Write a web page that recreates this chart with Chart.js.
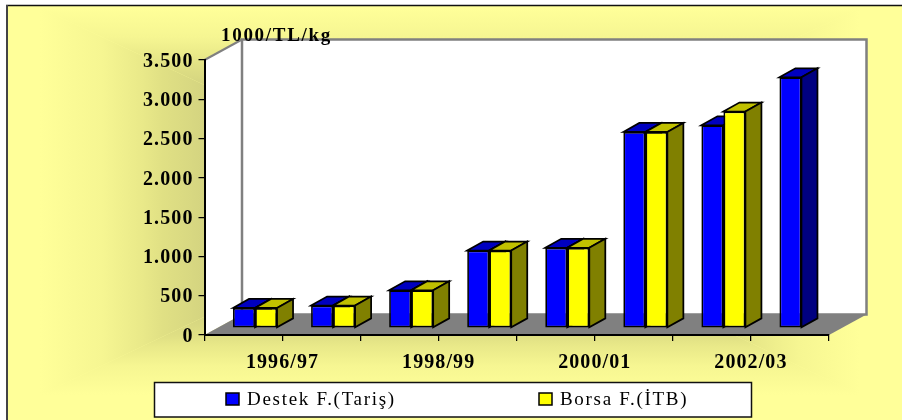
<!DOCTYPE html>
<html><head><meta charset="utf-8">
<style>html,body{margin:0;padding:0;background:#fff}#w{width:902px;height:420px}</style>
<script src="https://cdn.jsdelivr.net/npm/chart.js@4"></script>
</head><body><div id="w"><canvas id="c"></canvas></div>
<script>
const categories = ['1996/97','1997/98','1998/99','1999/00','2000/01','2001/02','2002/03','2003/04'];
const destek = [255, 285, 480, 985, 1020, 2495, 2580, 3190];
const borsa = [255, 285, 480, 985, 1020, 2495, 2755, null];
const yTicks = [0,500,1000,1500,2000,2500,3000,3500];
const unitLabel = '1000/TL/kg';
const seriesNames = ['Destek F.(Tariş)','Borsa F.(İTB)'];

const SP = '1.1px';
const SP_TEXT = '1.7px';
const SERIF = '"Liberation Serif","Times New Roman",serif';
const WALL = {dx:37.5, dy:-20.5};
const BAR = {ox:11.5, oy:-7, dx:16, dy:-9};
const LEGEND = {x:154.5,y:382.5,w:597,h:34.5,items:[{sw:226,tx:247},{sw:539,tx:560}]};

function fmt(v){return String(v).replace(/\B(?=(\d{3})+$)/g,'.');}

function shading(g){
  const cx=450,cy=200,x0=40,x1=860,y0=8,y1=395;
  const stops=[[0,'#C8C878'],[0.6,'#D4D480'],[0.7,'#E0E084'],[0.75,'#E9E989'],[0.85,'#F6F692'],[1,'#FFFF99']];
  const sides=[
    [[x0,y0],[x1,y0],cx,y0],[[x1,y0],[x1,y1],x1,cy],
    [[x1,y1],[x0,y1],cx,y1],[[x0,y1],[x0,y0],x0,cy]
  ];
  sides.forEach(([a,b,ex,ey])=>{
    const lg=g.createLinearGradient(cx,cy,ex,ey);
    stops.forEach(s=>lg.addColorStop(s[0],s[1]));
    g.fillStyle=lg;
    g.beginPath();g.moveTo(cx,cy);g.lineTo(a[0],a[1]);g.lineTo(b[0],b[1]);g.closePath();g.fill();
  });
}

function drawDepth(g,c,ds,m){
  g.strokeStyle='#000';g.lineWidth=1.75;g.lineJoin='miter';
  m.data.forEach((el,i)=>{
    if(ds.data[i]==null)return;
    const p=el.getProps(['x','y','base','width'],false);
    const L=p.x-p.width/2,R=p.x+p.width/2,T=p.y,B=p.base;
    g.fillStyle=ds.topColor;
    g.beginPath();g.moveTo(L,T);g.lineTo(L+BAR.dx,T+BAR.dy);g.lineTo(R+BAR.dx,T+BAR.dy);g.lineTo(R,T);g.closePath();g.fill();g.stroke();
    g.fillStyle=ds.sideColor;
    g.beginPath();g.moveTo(R,T);g.lineTo(R+BAR.dx,T+BAR.dy);g.lineTo(R+BAR.dx,B+BAR.dy);g.lineTo(R,B);g.closePath();g.fill();g.stroke();
  });
}

const scene = {
  id:'scene',
  beforeLayout(c){c.ctx.letterSpacing=SP;},
  beforeDraw(c){
    const g=c.ctx, W=c.width, H=c.height, a=c.chartArea;
    g.letterSpacing=SP;
    g.save();
    g.fillStyle='#fff';g.fillRect(0,0,W,H);
    g.fillStyle='#FFFF99';g.fillRect(7,5,W-7,H-5);
    shading(g);
    // frame: top and left edges only
    g.strokeStyle='#111';g.lineWidth=1.5;
    g.beginPath();g.moveTo(6,5.5);g.lineTo(W,5.5);g.stroke();
    g.strokeStyle='#444';g.lineWidth=2;
    g.beginPath();g.moveTo(7,5);g.lineTo(7,H);g.stroke();
    // side wall
    g.fillStyle='#fff';g.strokeStyle='#808080';g.lineWidth=2;
    g.beginPath();g.moveTo(a.left,a.top);g.lineTo(a.left+WALL.dx,a.top+WALL.dy);
    g.lineTo(a.left+WALL.dx,a.bottom+WALL.dy);g.lineTo(a.left,a.bottom);g.closePath();g.fill();
    g.beginPath();g.moveTo(a.left,a.top);g.lineTo(a.left+WALL.dx,a.top+WALL.dy);g.stroke();
    // back wall
    g.lineWidth=2.5;
    g.beginPath();g.rect(a.left+WALL.dx,a.top+WALL.dy,a.width,a.height);g.fill();g.stroke();
    // floor
    g.fillStyle='#808080';
    g.beginPath();g.moveTo(a.left,a.bottom);g.lineTo(a.right,a.bottom);
    g.lineTo(a.right+WALL.dx,a.bottom+WALL.dy);g.lineTo(a.left+WALL.dx,a.bottom+WALL.dy);g.closePath();g.fill();
    g.restore();
  },
  beforeDatasetsDraw(c){
    // first series, then second over it
    const g=c.ctx;
    c.data.datasets.forEach((ds,i)=>{
      const m=c.getDatasetMeta(i);
      g.save();
      g.translate(BAR.ox,BAR.oy);
      drawDepth(g,c,ds,m);
      m.controller.draw();
      g.restore();
    });
    return false;
  },
  afterDraw(c){
    const g=c.ctx, L=LEGEND;
    g.save();
    g.letterSpacing=SP_TEXT;
    g.fillStyle='#000';g.font='bold 19px '+SERIF;g.textAlign='left';g.textBaseline='alphabetic';
    g.fillText(unitLabel,221,40.5);
    // legend
    g.fillStyle='#fff';g.strokeStyle='#111';g.lineWidth=1.5;
    g.fillRect(L.x,L.y,L.w,L.h);g.strokeRect(L.x,L.y,L.w,L.h);
    c.data.datasets.forEach((ds,i)=>{
      const it=L.items[i];
      g.fillStyle=ds.backgroundColor;g.strokeStyle='#000';g.lineWidth=1.5;
      g.fillRect(it.sw,393,13,12);g.strokeRect(it.sw,393,13,12);
      g.fillStyle='#000';g.font='19px '+SERIF;g.textBaseline='alphabetic';
      g.fillText(ds.label,it.tx,404.5);
    });
    g.restore();
  }
};

new Chart(document.getElementById('c'),{
  type:'bar',
  data:{labels:categories,datasets:[
    {label:seriesNames[0],data:destek,backgroundColor:'#0000FF',borderColor:'#000',borderWidth:1.75,borderSkipped:false,
     topColor:'#0000C0',sideColor:'#000080',clip:false,categoryPercentage:44/78,barPercentage:1},
    {label:seriesNames[1],data:borsa,backgroundColor:'#FFFF00',borderColor:'#000',borderWidth:1.75,borderSkipped:false,
     topColor:'#C0C000',sideColor:'#808000',clip:false,categoryPercentage:44/78,barPercentage:1}
  ]},
  options:{
    responsive:true,maintainAspectRatio:false,animation:false,
    layout:{padding:{top:60,left:0,right:73,bottom:0}},
    plugins:{title:{display:false},tooltip:{enabled:false},legend:{display:false}},
    scales:{
      x:{offset:true,
        afterFit(s){s.height=85;},
        border:{color:'#000',width:2},
        grid:{display:true,drawOnChartArea:false,color:'#000',lineWidth:1.25,tickLength:6},
        ticks:{autoSkip:false,maxRotation:0,minRotation:0,labelOffset:39,padding:10,color:'#000',
          font:{family:SERIF,size:20,weight:'bold'},
          callback(v,i){return i%2===0?this.getLabelForValue(v):'';}}
      },
      y:{min:0,max:3500,
        afterBuildTicks(s){s.ticks=yTicks.map(v=>({value:v}));},
        afterFit(s){s.width=204.5;},
        border:{color:'#000',width:2},
        grid:{display:true,drawOnChartArea:false,color:'#000',lineWidth:1.25,tickLength:6},
        ticks:{padding:5,labelOffset:1.5,color:'#000',font:{family:SERIF,size:20,weight:'bold'},callback(v){return fmt(v);}}
      }
    }
  },
  plugins:[scene]
});
</script></body></html>
